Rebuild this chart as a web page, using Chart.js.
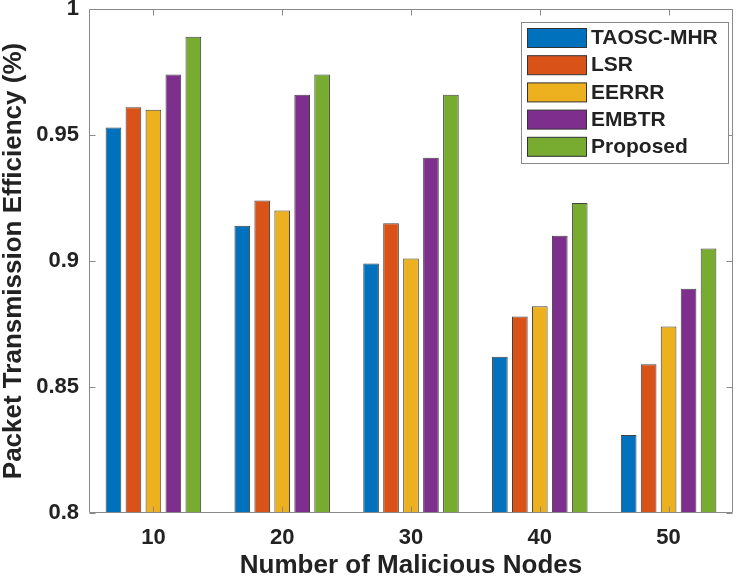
<!DOCTYPE html>
<html><head><meta charset="utf-8">
<script src="https://cdn.jsdelivr.net/npm/chart.js@4/dist/chart.umd.min.js"></script>
<style>html,body{margin:0;padding:0;background:#fff;}#wrap{width:738px;height:583px;}</style>
</head><body><div id="wrap"><canvas id="c" width="738" height="583"></canvas></div>
<script>
const categories = ['10', '20', '30', '40', '50'];
const seriesNames = ['TAOSC-MHR', 'LSR', 'EERRR', 'EMBTR', 'Proposed'];
const taoscMhr = [0.953, 0.914, 0.899, 0.862, 0.831];
const lsr = [0.961, 0.924, 0.915, 0.878, 0.859];
const eerrr = [0.960, 0.920, 0.901, 0.882, 0.874];
const embtr = [0.974, 0.966, 0.941, 0.910, 0.889];
const proposed = [0.989, 0.974, 0.966, 0.923, 0.905];
const yTickValues = [0.8, 0.85, 0.9, 0.95, 1];
const yTickLabels = ['0.8', '0.85', '0.9', '0.95', '1'];
const xTitle = 'Number of Malicious Nodes';
const yTitle = 'Packet Transmission Efficiency (%)';

const seriesValues = [taoscMhr, lsr, eerrr, embtr, proposed];
const colors = ['#0072BD', '#D95319', '#EDB120', '#7E2F8E', '#77AC30'];
const FONT = '"Liberation Sans", Arial, Helvetica, sans-serif';
const TEXT = '#222222';
const AXIS = '#8a8a8a';

const framePlugin = {
  id: 'frame',
  afterDatasetsDraw(chart) {
    const {ctx, chartArea: a, scales: {x, y}} = chart;
    ctx.save();
    ctx.strokeStyle = AXIS;
    ctx.lineWidth = 1;
    const L = Math.round(a.left) + 0.5, R = Math.round(a.right) - 0.5;
    const T = Math.round(a.top) + 0.5, B = Math.round(a.bottom) - 0.5;
    const tl = 6;
    ctx.beginPath();
    ctx.rect(L, T, R - L, B - T);
    x.ticks.forEach((t, i) => {
      const px = Math.round(x.getPixelForTick(i)) + 0.5;
      ctx.moveTo(px, B); ctx.lineTo(px, B - tl);
      ctx.moveTo(px, T); ctx.lineTo(px, T + tl);
    });
    y.ticks.forEach((t) => {
      const py = Math.round(y.getPixelForValue(t.value)) + 0.5;
      ctx.moveTo(L, py); ctx.lineTo(L + tl, py);
      ctx.moveTo(R, py); ctx.lineTo(R - tl, py);
    });
    ctx.stroke();
    ctx.restore();
  }
};

const legendPlugin = {
  id: 'boxLegend',
  afterDraw(chart) {
    const {ctx} = chart;
    const bx = 521.5, by = 22.5, bw = 207, bh = 141;
    ctx.save();
    ctx.fillStyle = '#ffffff';
    ctx.fillRect(bx, by, bw, bh);
    ctx.strokeStyle = AXIS;
    ctx.lineWidth = 1;
    ctx.strokeRect(bx, by, bw, bh);
    ctx.font = 'bold 21px ' + FONT;
    ctx.textBaseline = 'middle';
    ctx.textAlign = 'left';
    chart.data.datasets.forEach((ds, i) => {
      const sy = 28.5 + i * 27.2;
      ctx.fillStyle = ds.backgroundColor;
      ctx.fillRect(527.5, sy, 59, 19);
      ctx.strokeStyle = '#333333';
      ctx.strokeRect(527.5, sy, 59, 19);
      ctx.fillStyle = TEXT;
      ctx.fillText(ds.label, 591, sy + 10);
    });
    ctx.restore();
  }
};

new Chart(document.getElementById('c'), {
  type: 'bar',
  data: {
    labels: categories,
    datasets: seriesNames.map((name, i) => ({
      label: name,
      data: seriesValues[i],
      backgroundColor: colors[i],
      borderColor: 'rgba(45,45,45,0.9)',
      borderWidth: 1,
      categoryPercentage: 0.775,
      barPercentage: 0.785
    }))
  },
  options: {
    responsive: false,
    animation: false,
    devicePixelRatio: 1,
    layout: {padding: {top: 9, right: 5, left: 0, bottom: 0}},
    plugins: {legend: {display: false}, tooltip: {enabled: false}},
    scales: {
      x: {
        grid: {display: false, drawTicks: false},
        border: {display: false},
        ticks: {font: {family: FONT, size: 22, weight: 'bold'}, color: TEXT, padding: 12},
        title: {display: true, text: xTitle, color: TEXT,
          font: {family: FONT, size: 26, weight: 'bold', lineHeight: 1.1},
          padding: {top: 0, bottom: 3}},
        afterFit(s) { s.height = 70; s.paddingLeft = 0; s.paddingRight = 0; }
      },
      y: {
        min: 0.8, max: 1,
        grid: {display: false, drawTicks: false},
        border: {display: false},
        afterBuildTicks(s) { s.ticks = yTickValues.map(v => ({value: v})); },
        ticks: {
          font: {family: FONT, size: 22, weight: 'bold'}, color: TEXT, padding: 10,
          callback: (v) => { const i = yTickValues.findIndex(t => Math.abs(t - v) < 1e-9); return i >= 0 ? yTickLabels[i] : ''; }
        },
        title: {display: true, text: yTitle, color: TEXT,
          font: {family: FONT, size: 26, weight: 'bold', lineHeight: 1.1},
          padding: {top: 0, bottom: 0}},
        afterFit(s) { s.width = 89; s.paddingTop = 0; s.paddingBottom = 0; }
      }
    }
  },
  plugins: [framePlugin, legendPlugin]
});
</script></body></html>
